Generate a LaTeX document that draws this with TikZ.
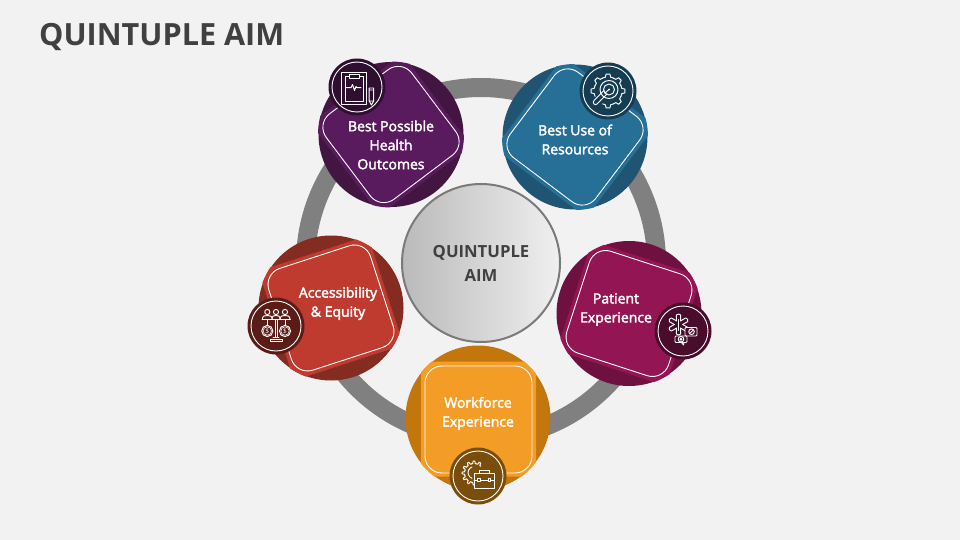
\documentclass[tikz,border=0pt]{standalone}
\usepackage{fontspec}
\setmainfont{Open Sans}
\newfontface\labfont[FakeBold=2.6]{Open Sans}
\usetikzlibrary{shapes.geometric}
\definecolor{bgc}{HTML}{F2F2F2}
\definecolor{ringc}{HTML}{808080}
\definecolor{inkc}{HTML}{404040}
\definecolor{purD}{HTML}{431541}\definecolor{purL}{HTML}{5A1A5E}\definecolor{purB}{HTML}{2E0F30}
\definecolor{bluD}{HTML}{1F5573}\definecolor{bluL}{HTML}{266F97}\definecolor{bluB}{HTML}{143D54}
\definecolor{magD}{HTML}{6E1140}\definecolor{magL}{HTML}{941553}\definecolor{magB}{HTML}{4A0C2C}
\definecolor{oraD}{HTML}{C2760C}\definecolor{oraL}{HTML}{F39C26}\definecolor{oraB}{HTML}{7A4D0A}
\definecolor{redD}{HTML}{842B22}\definecolor{redL}{HTML}{BF3A2F}\definecolor{redB}{HTML}{5A1C16}
\tikzset{
  disc/.style={circle,minimum size=145pt,inner sep=0pt,outer sep=0pt,fill=#1},
  tile/.style={rectangle,minimum size=115pt,inner sep=0pt,outer sep=0pt,rounded corners=8pt,fill=#1},
  tileline/.style={rectangle,minimum size=107pt,inner sep=0pt,outer sep=0pt,rounded corners=17pt,draw=white,line width=.9pt},
  badge/.style={circle,minimum size=57pt,inner sep=0pt,outer sep=0pt,fill=#1},
  badgeline/.style={circle,minimum size=50pt,inner sep=0pt,outer sep=0pt,draw=white,line width=.9pt},
  lab/.style={text=white,align=center,font=\fontsize{14}{19}\labfont},
  iconline/.style={draw=white,line width=.95pt,line join=round,line cap=round},
}
\newcommand{\gearteeth}[4]{% list, step, rin, rout
  \foreach \a in {#1}{
    \draw[iconline] ({\a-0.5*#2}:#3) -- ({\a-0.25*#2}:#3) -- ({\a-0.14*#2}:#4) -- ({\a+0.14*#2}:#4) -- ({\a+0.25*#2}:#3) -- ({\a+0.5*#2}:#3);
  }
}
\begin{document}
\begin{tikzpicture}[x=1pt,y=-1pt]
\fill[bgc] (0,0) rectangle (960,540);
\useasboundingbox (0,0) rectangle (960,540);
\node[anchor=base west,text=inkc,font=\fontsize{30.6}{36}\selectfont\bfseries,inner sep=0pt] (title) at (39,46) {QUINTUPLE AIM};
\node[circle,draw=ringc,line width=19pt,minimum size=351pt,inner sep=0pt,outer sep=0pt] (ring) at (481,263) {};
\node[circle,minimum size=158pt,inner sep=0pt,outer sep=0pt,draw=ringc!95!black,line width=2pt,left color=black!27,right color=black!6] (hub) at (481,263) {};
\node[text=inkc,align=center,font=\fontsize{16.7}{24}\selectfont\bfseries] (hublabel) at (481,263.5) {QUINTUPLE\\AIM};
% purple
\node[disc=purD] (d1) at (391,134.5) {};
\begin{scope}\clip (391,134.5) circle (73);
\node[tile=purL,rotate=37] (t1) at (391,134.5) {};
\end{scope}
\node[tileline,rotate=37] (o1) at (391,134.5) {};
\node[lab] (l1) at (391,145) {Best Possible\\Health\\Outcomes};
\node[badge=purB] (b1) at (357,87) {};
\node[badgeline] (r1) at (357,87) {};
% blue
\node[disc=bluD] (d2) at (575,137) {};
\begin{scope}\clip (575,137) circle (73);
\node[tile=bluL,rotate=-37] (t2) at (575,137) {};
\end{scope}
\node[tileline,rotate=-37] (o2) at (575,137) {};
\node[lab] (l2) at (575,139.5) {Best Use of\\Resources};
\node[badge=bluB] (b2) at (608,91) {};
\node[badgeline] (r2) at (608,91) {};
% magenta
\node[disc=magD] (d3) at (629,313.5) {};
\begin{scope}\clip (629,313.5) circle (73);
\node[tile=magL,rotate=-18] (t3) at (629,313.5) {};
\end{scope}
\node[tileline,rotate=-18] (o3) at (629,313.5) {};
\node[lab] (l3) at (616,309.5) {Patient\\Experience};
\node[badge=magB] (b3) at (683,331) {};
\node[badgeline] (r3) at (683,331) {};
% orange
\node[disc=oraD] (d4) at (478,418) {};
\begin{scope}\clip (478,418) circle (73);
\node[tile=oraL] (t4) at (478.5,419) {};
\end{scope}
\node[tileline] (o4) at (478.5,419.5) {};
\node[lab] (l4) at (478,413.5) {Workforce\\Experience};
\node[badge=oraB] (b4) at (478,476) {};
\node[badgeline] (r4) at (478,476) {};
% red
\node[disc=redD] (d5) at (331,308) {};
\begin{scope}\clip (331,308) circle (73);
\node[tile=redL,rotate=18] (t5) at (331,308) {};
\end{scope}
\node[tileline,rotate=18] (o5) at (331,308) {};
\node[lab] (l5) at (338,303.5) {Accessibility\\\& Equity};
\node[badge=redB] (b5) at (276,326) {};
\node[badgeline] (r5) at (276,326) {};
% clipboard icon
\begin{scope}[shift={(357,87)}]
  \draw[iconline] (-15.7,-15) rectangle (9.3,17);
  \draw[iconline] (-12,-10.7) rectangle (6,14);
  \draw[iconline,fill=purB] (-8,-13) rectangle (2.7,-8.5);
  \draw[iconline] (-10.5,0.7) -- (-6,0.7) -- (-4.5,-2.5) -- (-2.5,3.5) -- (-1,-0.5) -- (0,0.7) -- (4,0.7);
  \draw[iconline] (12.2,3) rectangle (16.7,14) (12.2,14) -- (14.4,18) -- (16.7,14) (12.2,3) -- (12.2,1) -- (16.7,1) -- (16.7,3);
\end{scope}
% target gear icon
\begin{scope}[shift={(608,91)}]
  \gearteeth{0,45,90,180,225,270,315}{45}{14}{17}
  \draw[iconline] (1,-1.5) circle (9);
  \draw[iconline] (1,-1.5) circle (5.5);
  \fill[white] (1,-1.5) circle (1);
  \draw[iconline] (1,-1.5) -- (-3,2) (-4,-0.5) -- (-14,9.5) (-1,3) -- (-11,13) (-14,9.5) .. controls (-16,12) and (-13,15) .. (-11,13);
\end{scope}
% star and bubbles icon
\begin{scope}[shift={(683,331)}]
  \begin{scope}[shift={(-4.5,-6.5)}]
    \foreach \a in {30,90,150,210,270,330}{
      \draw[iconline,rotate=\a] (3.6,-2.1) -- (9.5,-2.1) -- (10.5,0) -- (9.5,2.1) -- (3.6,2.1);
    }
    \draw[iconline] (0,-5) -- (0,6);
  \end{scope}
  \draw[iconline,fill=magB,rounded corners=1pt] (2,-3.5) rectangle (14,5);
  \draw[iconline] (8.5,0.7) circle (2.8);
  \draw[iconline] (7.2,2) -- (9.8,-0.6);
  \draw[iconline,fill=magB,rounded corners=1pt] (-8,5) rectangle (4,11.5);
  \draw[iconline] (-1.5,11.5) -- (0.5,14) -- (1,11.5);
  \draw[iconline] (-2,8.2) circle (2.8);
  \draw[iconline] (-2,8.2) circle (1);
\end{scope}
% gear and briefcase icon
\begin{scope}[shift={(478,476)}]
  \begin{scope}[shift={(-4,-3)}]
    \gearteeth{-90,-60,180,210,240,120,150,90}{30}{9.5}{12}
    \draw[iconline] (-2,-6) arc (250:110:6);
  \end{scope}
  \draw[iconline,fill=oraB] (-4,-2.5) rectangle (16,12.5);
  \draw[iconline] (-4,4) -- (16,4);
  \draw[iconline] (1,-2.5) -- (1,-5.5) -- (11,-5.5) -- (11,-2.5);
  \draw[iconline,fill=oraB] (-0.5,2.5) rectangle (2,5.5);
  \draw[iconline,fill=oraB] (10,2.5) rectangle (12.5,5.5);
\end{scope}
% people and scales icon
\begin{scope}[shift={(276,326)}]
  \foreach \x in {-8.7,9}{
    \draw[iconline] (\x,-14) circle (2.6);
    \draw[iconline] (\x-5,-6.5) .. controls (\x-5,-10.5) and (\x-2,-10.5) .. (\x,-10.5) .. controls (\x+2,-10.5) and (\x+5,-10.5) .. (\x+5,-6.5);
  }
  \draw[iconline] (0,-14) circle (2.6);
  \draw[iconline] (-4,-6.5) .. controls (-4,-10.5) and (-2,-10.5) .. (0,-10.5) .. controls (2,-10.5) and (4,-10.5) .. (4,-6.5);
  \draw[iconline] (-14,-6.5) -- (14.5,-6.5);
  \foreach \x in {-8.7,9}{
    \draw[iconline] (\x,-6.5) -- (\x,-0.5);
    \draw[iconline] (\x,5) circle (5.6);
    \draw[iconline,line width=.6pt] (\x,5) circle (4.2);
  }
  \node[text=white,font=\fontsize{6.5}{7}\selectfont,inner sep=0pt] (dollarA) at (-8.7,5) {\$};
  \node[text=white,font=\fontsize{6.5}{7}\selectfont,inner sep=0pt] (dollarB) at (9,5) {\$};
  \draw[iconline] (-1,-6.5) -- (-1,11.5) (1,-6.5) -- (1,11.5);
  \draw[iconline] (-3,11.5) -- (3,11.5);
  \draw[iconline] (-6,15) -- (-6,13.5) -- (6,13.5) -- (6,15) -- cycle;
\end{scope}
\end{tikzpicture}
\end{document}
